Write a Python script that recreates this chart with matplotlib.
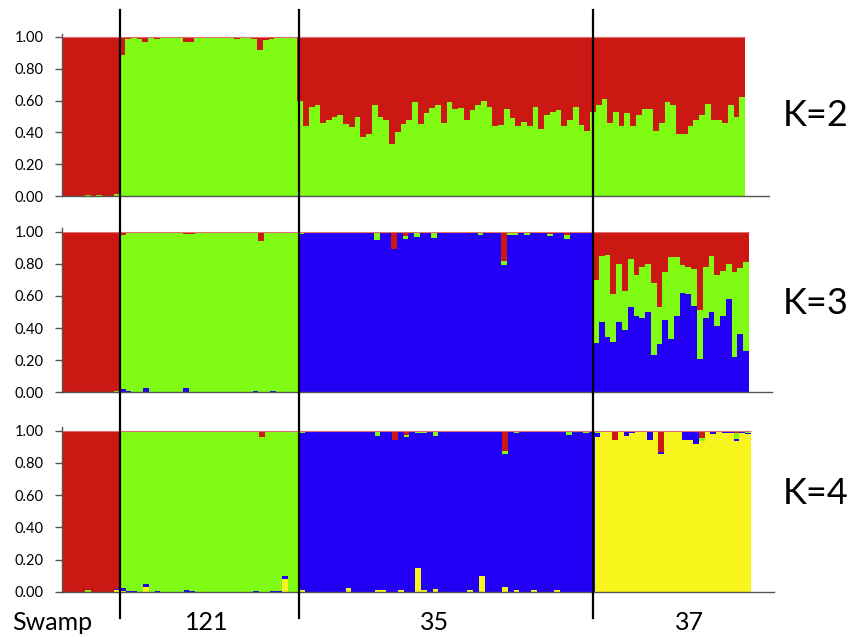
import matplotlib
matplotlib.use("Agg")
import matplotlib.pyplot as plt
from matplotlib.lines import Line2D
import numpy as np

plt.rcParams['font.family'] = ['Lato', 'DejaVu Sans']

# colours of the clusters
RED = '#cc1812'
GREEN = '#80fc14'
BLUE = '#2300f5'
YELLOW = '#f8f51c'

group_labels = ['Swamp', '121', '35', '37']
group_sizes = [10, 31, 51, 27]
N = sum(group_sizes)

# ---------------- K=2 : green share, red is the rest ----------------
k2_green_swamp = [0, 0, 0, 0, 0.006, 0, 0.006, 0, 0, 0.01]
k2_green_121 = [0.885, 0.99, 0.995, 0.99, 0.97, 0.995, 0.99, 1, 1, 1,
                1, 0.97, 0.97, 1, 1, 1, 1, 1, 1, 1,
                0.99, 1, 1, 0.99, 0.92, 0.98, 0.99, 1, 1, 1,
                1]
k2_green_35 = [0.60, 0.44, 0.56, 0.57, 0.46, 0.48, 0.50, 0.51, 0.45, 0.435,
               0.50, 0.37, 0.39, 0.575, 0.50, 0.48, 0.33, 0.40, 0.45, 0.48,
               0.59, 0.45, 0.525, 0.555, 0.575, 0.46, 0.59, 0.55, 0.555, 0.48,
               0.54, 0.57, 0.60, 0.56, 0.44, 0.445, 0.545, 0.49, 0.44, 0.465,
               0.44, 0.56, 0.42, 0.51, 0.53, 0.54, 0.44, 0.48, 0.56, 0.445,
               0.41]
k2_green_37 = [0.53, 0.57, 0.61, 0.46, 0.53, 0.44, 0.525, 0.44, 0.51, 0.545,
               0.545, 0.41, 0.46, 0.59, 0.57, 0.39, 0.39, 0.44, 0.48, 0.51,
               0.58, 0.48, 0.48, 0.46, 0.57, 0.50, 0.62]

# ---------------- K=3 ----------------
k3_green_swamp = [0, 0, 0, 0, 0, 0, 0, 0, 0, 0.01]
k3_blue_swamp = [0] * 10

k3_red_121 = [0.02, 0, 0, 0, 0, 0, 0, 0, 0, 0,
              0, 0.015, 0.015, 0, 0, 0, 0, 0, 0, 0,
              0.01, 0, 0, 0, 0.06, 0.01, 0, 0, 0, 0,
              0]
k3_blue_121 = [0.02, 0.01, 0, 0, 0.025, 0, 0, 0, 0, 0,
               0, 0.025, 0, 0, 0, 0, 0, 0, 0, 0,
               0, 0, 0, 0.01, 0, 0, 0.01, 0, 0, 0,
               0]

k3_red_35 = [0, 0, 0, 0, 0, 0, 0, 0, 0, 0,
             0, 0, 0, 0, 0, 0, 0.105, 0, 0.025, 0,
             0.005, 0.008, 0, 0, 0, 0, 0, 0, 0, 0.005,
             0, 0, 0, 0, 0, 0.18, 0.005, 0, 0, 0.01,
             0, 0, 0, 0.017, 0, 0, 0.02, 0, 0, 0,
             0]
k3_green_35 = [0.015, 0.005, 0.005, 0.005, 0.006, 0, 0, 0.005, 0.005, 0,
               0, 0, 0, 0.05, 0.006, 0, 0, 0, 0.02, 0,
               0.03, 0, 0, 0.04, 0, 0, 0.01, 0, 0.006, 0,
               0, 0.02, 0, 0.006, 0, 0.03, 0.015, 0.02, 0, 0.01,
               0.006, 0, 0.006, 0.01, 0, 0.006, 0.025, 0.005, 0.005, 0.005,
               0.01]

k3_red_37 = [0.30, 0.15, 0.145, 0.39, 0.20, 0.37, 0.17, 0.27, 0.22, 0.20,
             0.32, 0.47, 0.25, 0.16, 0.16, 0.21, 0.22, 0.23, 0.49, 0.22,
             0.15, 0.27, 0.245, 0.20, 0.25, 0.225, 0.19]
k3_blue_37 = [0.305, 0.435, 0.345, 0.315, 0.44, 0.39, 0.53, 0.475, 0.465, 0.50,
              0.23, 0.30, 0.45, 0.33, 0.475, 0.62, 0.61, 0.54, 0.21, 0.46,
              0.50, 0.41, 0.475, 0.58, 0.22, 0.36, 0.26]

# ---------------- K=4 ----------------
k4_green_swamp = [0, 0, 0, 0, 0.008, 0, 0, 0, 0, 0]
k4_blue_swamp = [0, 0, 0, 0, 0, 0, 0, 0, 0, 0.005]
k4_yellow_swamp = [0, 0, 0, 0, 0, 0, 0, 0, 0, 0.01]

k4_red_121 = [0.005, 0, 0, 0, 0, 0, 0, 0, 0, 0,
              0, 0, 0, 0, 0, 0, 0, 0, 0, 0,
              0, 0, 0, 0, 0.04, 0, 0, 0, 0, 0,
              0]
k4_blue_121 = [0.015, 0.006, 0.006, 0, 0.02, 0, 0.006, 0, 0, 0,
               0, 0.012, 0.006, 0, 0, 0, 0, 0, 0, 0,
               0, 0, 0, 0.006, 0, 0, 0.006, 0.006, 0.015, 0,
               0]
k4_yellow_121 = [0.005, 0, 0, 0, 0.03, 0, 0, 0, 0, 0,
                 0, 0, 0, 0, 0, 0, 0, 0, 0, 0,
                 0, 0, 0, 0, 0, 0, 0, 0, 0.08, 0,
                 0]

k4_red_35 = [0, 0, 0, 0, 0, 0, 0, 0, 0, 0,
             0, 0, 0, 0, 0, 0, 0.055, 0, 0.027, 0,
             0, 0, 0, 0, 0, 0, 0, 0, 0, 0,
             0, 0, 0, 0, 0, 0.125, 0, 0, 0, 0.01,
             0, 0, 0, 0.008, 0, 0, 0.008, 0, 0, 0,
             0]
k4_green_35 = [0.015, 0, 0, 0, 0, 0, 0, 0, 0, 0,
               0, 0, 0, 0.035, 0, 0, 0, 0, 0.01, 0,
               0.012, 0.012, 0, 0.03, 0, 0, 0.01, 0.005, 0, 0.01,
               0, 0.01, 0, 0, 0, 0.017, 0.01, 0.015, 0, 0,
               0, 0, 0, 0, 0, 0.008, 0.02, 0, 0, 0.012,
               0]
k4_yellow_35 = [0.008, 0, 0, 0, 0, 0, 0, 0, 0.02, 0,
                0, 0, 0, 0.01, 0.01, 0, 0, 0.008, 0, 0,
                0.15, 0.01, 0, 0.015, 0, 0, 0, 0, 0, 0.01,
                0, 0.10, 0, 0, 0, 0.03, 0, 0.01, 0, 0,
                0.01, 0, 0, 0, 0.01, 0, 0, 0, 0, 0,
                0]

k4_red_37 = [0, 0, 0, 0.06, 0, 0.005, 0, 0, 0, 0,
             0, 0.135, 0, 0, 0, 0, 0, 0, 0.045, 0,
             0, 0, 0, 0.005, 0.012, 0, 0]
k4_green_37 = [0.012, 0, 0.005, 0, 0, 0.005, 0, 0, 0, 0,
               0, 0, 0, 0, 0, 0, 0, 0, 0.02, 0,
               0, 0, 0, 0, 0.04, 0, 0.016]
k4_blue_37 = [0.025, 0, 0.006, 0, 0, 0.022, 0.016, 0, 0, 0.055,
              0, 0.01, 0, 0, 0, 0.055, 0.055, 0.08, 0, 0,
              0.02, 0, 0.012, 0.012, 0.01, 0.012, 0.006]


def rest(*parts):
    # the main cluster of a group takes what the others leave
    return 1 - np.sum([np.asarray(p, float) for p in parts], axis=0)


cat = lambda *a: np.concatenate([np.asarray(x, float) for x in a])

# K=2 layers, bottom to top
k2_green = cat(k2_green_swamp, k2_green_121, k2_green_35, k2_green_37)
k2_red = 1 - k2_green
k2_layers = [(k2_green, GREEN), (k2_red, RED)]

# K=3 layers (blue, green, red)
k3_blue = cat(k3_blue_swamp, k3_blue_121, rest(k3_red_35, k3_green_35), k3_blue_37)
k3_green = cat(k3_green_swamp, rest(k3_red_121, k3_blue_121), k3_green_35,
               rest(k3_red_37, k3_blue_37))
k3_red = cat(rest(k3_green_swamp, k3_blue_swamp), k3_red_121, k3_red_35, k3_red_37)
k3_layers = [(k3_blue, BLUE), (k3_green, GREEN), (k3_red, RED)]

# K=4 layers (yellow, blue, green, red)
k4_yellow = cat(k4_yellow_swamp, k4_yellow_121, k4_yellow_35,
                rest(k4_red_37, k4_green_37, k4_blue_37))
k4_blue = cat(k4_blue_swamp, k4_blue_121,
              rest(k4_red_35, k4_green_35, k4_yellow_35), k4_blue_37)
k4_green = cat(k4_green_swamp, rest(k4_red_121, k4_blue_121, k4_yellow_121),
               k4_green_35, k4_green_37)
k4_red = cat(rest(k4_green_swamp, k4_blue_swamp, k4_yellow_swamp), k4_red_121,
             k4_red_35, k4_red_37)
k4_layers = [(k4_yellow, YELLOW), (k4_blue, BLUE), (k4_green, GREEN), (k4_red, RED)]

W, H = 848, 637
fig = plt.figure(figsize=(W / 100, H / 100), dpi=100)

# (layers, label, y of 0.00 in px, px per unit, bars end px, axis end px, label y px)
panels = [
    (k2_layers, 'K=2', 196.0, 159.0, 745, 769, 115),
    (k3_layers, 'K=3', 392.3, 160.6, 749, 772, 304),
    (k4_layers, 'K=4', 591.7, 161.0, 751, 774, 493),
]

axes = []
x = np.arange(N)
for layers, klabel, zero_px, unit_px, bar_end, axis_end, label_y in panels:
    top_px = zero_px - 1.02 * unit_px
    ax = fig.add_axes([62 / W, 1 - zero_px / H, (axis_end - 62) / W, (zero_px - top_px) / H])
    bottom = np.zeros(N)
    for vals, col in layers:
        ax.bar(x, vals, width=1.0, bottom=bottom, align='edge', color=col,
               linewidth=0, antialiased=False)
        bottom = bottom + vals
    ax.hlines(1.0, 0, N, color='#e07070', lw=0.8)
    ax.set_xlim(0, N * (axis_end - 62) / (bar_end - 62))
    ax.set_ylim(0, 1.02)
    ax.set_yticks([0, 0.2, 0.4, 0.6, 0.8, 1.0])
    ax.set_yticklabels(['%.2f' % v for v in [0, 0.2, 0.4, 0.6, 0.8, 1.0]])
    ax.set_xticks([])
    ax.tick_params(axis='y', direction='out', length=5, width=1, pad=8,
                   labelsize=10.5, color='#555555')
    for s in ['top', 'right']:
        ax.spines[s].set_visible(False)
    for s in ['left', 'bottom']:
        ax.spines[s].set_color('#555555')
        ax.spines[s].set_linewidth(1.0)
    fig.text(783 / W, 1 - label_y / H, klabel, ha='left', va='center', fontsize=26)
    axes.append(ax)

# vertical dividers between the populations
bounds = np.cumsum(group_sizes)[:-1]
ref_ax = axes[1]
for b in bounds:
    disp = ref_ax.transData.transform((b, 0))
    xf = fig.transFigure.inverted().transform(disp)[0]
    fig.add_artist(Line2D([xf, xf], [1 - 10 / H, 1 - 618 / H], transform=fig.transFigure,
                          color='black', lw=1.6))

# population labels under the plot
label_pos = [(12, 'left'), (207, 'center'), (435, 'center'), (689, 'center')]
for name, (px, ha) in zip(group_labels, label_pos):
    fig.text(px / W, 1 - 630 / H, name, ha=ha, va='baseline', fontsize=18)

fig.savefig('out.png', dpi=100)
